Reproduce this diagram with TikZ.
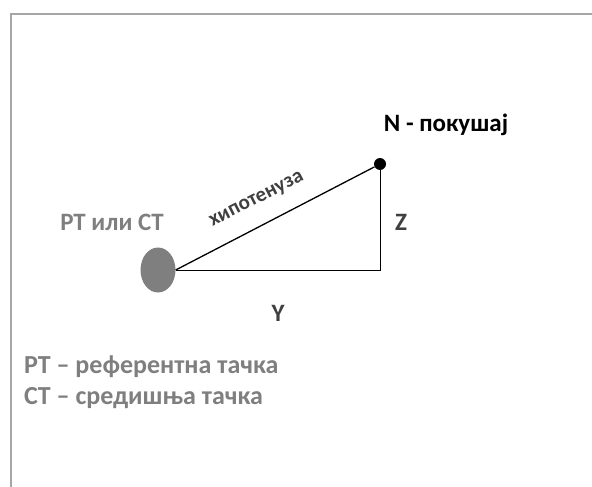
\documentclass[tikz,border=0pt]{standalone}
\usepackage{fontspec}
\setmainfont{Carlito}
\usetikzlibrary{shapes.geometric, positioning, calc}
\definecolor{framegray}{RGB}{166,166,166}
\definecolor{labelgray}{RGB}{127,127,127}
\definecolor{darktext}{RGB}{64,64,64}

\begin{document}
\begin{tikzpicture}[
    x=1pt, y=-1pt,
    font=\bfseries\fontsize{25}{30}\selectfont,
    refpoint/.style={ellipse, fill=labelgray, minimum width=35pt, minimum height=45pt, inner sep=0pt},
    trialpoint/.style={circle, fill=black, minimum size=12pt, inner sep=0pt},
    greylabel/.style={text=labelgray, inner sep=0pt},
    sidelabel/.style={text=darktext, inner sep=0pt},
    legend/.style={text=labelgray, inner sep=0pt, anchor=west, font=\bfseries\fontsize{26}{30}\selectfont}
]
\useasboundingbox (0,0) rectangle (592,487);

% === FRAME ===
\draw[framegray, line width=2.5pt] (11,487) -- (11,14) -- (592,14);

% === POINTS ===
\node[refpoint] (pt) at (158,270) {};
\node[trialpoint] (n) at (380,164) {};
\coordinate (corner) at (380,270);

% === SIDES ===
\draw[line width=1.3pt] (pt.east) -- (n);
\draw[line width=0.8pt] (pt.east) -- (corner) -- (n);

% === LABELS ===
\node[inner sep=0pt] (ntext) at (446,125) {N - покушај};
\node[greylabel] (pttext) at (112,222) {РТ или СТ};
\node[sidelabel] (z) at (401,222) {Z};
\node[sidelabel] (y) at (278,313) {Y};
\node[sidelabel, rotate=27, font=\bfseries\fontsize{21}{25}\selectfont] (hyp) at (257,200) {хипотенуза};

% Legend
\node[legend] (leg1) at (24,367) {РТ – референтна тачка};
\node[legend] (leg2) at (24,398) {СТ – средишња тачка};

\end{tikzpicture}
\end{document}
